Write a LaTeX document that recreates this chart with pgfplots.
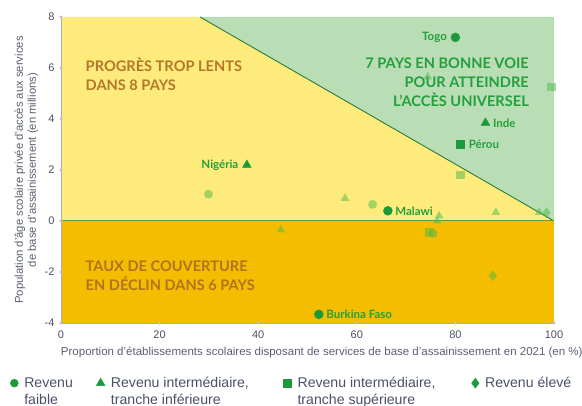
\documentclass[border=0pt]{standalone}
\usepackage{fontspec}
\setmainfont{Liberation Sans}
\newfontfamily\lato{Lato}
\usepackage{pgfplots}
\pgfplotsset{compat=1.18}
\definecolor{bgorange}{HTML}{F5BD00}
\definecolor{bgyellow}{HTML}{FDEC7C}
\definecolor{bggreen}{HTML}{B9DEB5}
\definecolor{linegreen}{HTML}{2F7A3A}
\definecolor{zerogreen}{HTML}{6A9A3A}
\definecolor{darkg}{HTML}{1A9A3A}
\definecolor{lightg}{HTML}{4CB848}
\definecolor{txtg}{HTML}{23A03C}
\definecolor{txtbrown}{HTML}{B5762A}
\definecolor{txtbrown2}{HTML}{B0741E}
\definecolor{axgray}{HTML}{A8ACBC}
\definecolor{tickc}{HTML}{4A5068}
\definecolor{labc}{HTML}{5A6070}
\begin{document}
\begin{tikzpicture}
\begin{axis}[
  scale only axis, width=493pt, height=306pt,
  xmin=0, xmax=100, ymin=-4, ymax=8,
  axis x line=bottom, axis y line=left,
  axis line style={-, draw=axgray, line width=0.9pt},
  axis on top,
  xtick={0,20,...,100}, ytick={-4,-2,...,8},
  major tick length=0pt,
  tick label style={font=\fontsize{11}{13}\selectfont, text=tickc},
  /pgf/number format/assume math mode=true,
  xticklabel style={yshift=-4pt},
  yticklabel style={xshift=-3pt},
  xlabel={Proportion d’établissements scolaires disposant de services de base d’assainissement en 2021 (en \%)},
  xlabel style={at={(axis description cs:0.529,-0.0948)}, anchor=center, font=\fontsize{11.5}{12}\selectfont, text=labc},
  ylabel={Population d’âge scolaire privée d’accès aux services\\de base d’assainissement (en millions)},
  ylabel style={at={(axis description cs:-0.07,0.5)}, anchor=center, align=center, font=\fontsize{11.3}{13}\selectfont, text=labc},
  clip=false,
  legend columns=4,
  legend image code/.code={\draw[#1] plot coordinates {(0pt,0pt)};},
  legend style={at={(axis description cs:-0.1093,-0.170)}, anchor=north west, draw=none, fill=none,
    font=\fontsize{14.1}{16.8}\selectfont, text=tickc,
    nodes={inner sep=0pt},
    /tikz/every odd column/.style={column sep=6pt}},
  legend cell align=left,
]
% background regions
\addplot[fill=bgorange, draw=none, forget plot] coordinates {(0,-4) (100,-4) (100,0) (0,0)} -- cycle;
\addplot[fill=bgyellow, draw=none, forget plot] coordinates {(0,0) (100,0) (28.2,8) (0,8)} -- cycle;
\addplot[fill=bggreen, draw=none, forget plot] coordinates {(28.2,8) (100,0) (100,8)} -- cycle;
\addplot[draw=linegreen, line width=0.9pt, forget plot] coordinates {(28.2,8) (100,0)};
\addplot[draw=zerogreen, line width=1pt, forget plot] coordinates {(0,0) (100,0)};
% tick circles
\addplot[only marks, mark=*, mark size=1.3pt, mark options={fill=white, draw=axgray, line width=0.6pt}, forget plot]
  coordinates {(0,-4) (20,-4) (40,-4) (60,-4) (80,-4) (100,-4) (0,-2) (0,0) (0,2) (0,4) (0,6) (0,8)};
% light points
\addplot[only marks, color=lightg, mark=*, mark size=4.5pt, mark options={draw opacity=0, fill opacity=0.5}, forget plot]
  coordinates {(29.9,1.05) (63.2,0.65) (75.5,-0.48)};
\addplot[only marks, color=lightg, mark=triangle*, mark size=5pt, mark options={draw opacity=0, fill opacity=0.5}, forget plot]
  coordinates {(74.4,5.65) (44.6,-0.35) (57.6,0.89) (76.7,0.2) (76.3,0.0) (88.2,0.34) (97,0.34)};
\addplot[only marks, color=lightg, mark=square*, mark size=4.2pt, mark options={draw opacity=0, fill opacity=0.5}, forget plot]
  coordinates {(99.5,5.25) (81,1.8) (74.6,-0.45)};
\addplot[only marks, color=lightg, mark=diamond*, mark size=5.5pt, mark options={draw opacity=0, fill opacity=0.5}, forget plot]
  coordinates {(98.5,0.33) (87.6,-2.15)};
% dark points
\addplot[only marks, color=darkg, mark=*, mark size=4.5pt, forget plot]
  coordinates {(80,7.2) (66.3,0.4) (52.3,-3.66)};
\addplot[only marks, color=darkg, mark=triangle*, mark size=5pt, forget plot]
  coordinates {(37.7,2.2) (86.1,3.85)};
\addplot[only marks, color=darkg, mark=square*, mark size=4.2pt, forget plot]
  coordinates {(81,3.0)};
% country labels
\begin{scope}[every node/.style={font=\lato\fontsize{11.5}{13}\selectfont\bfseries, text=txtg}]
\node[anchor=east] at (axis cs:80,7.2) [xshift=-5pt] {Togo};
\node[anchor=west] at (axis cs:66.3,0.4) [xshift=4pt] {Malawi};
\node[anchor=west] at (axis cs:52.3,-3.66) [xshift=4pt] {Burkina Faso};
\node[anchor=east] at (axis cs:37.7,2.2) [xshift=-5pt] {Nigéria};
\node[anchor=west] at (axis cs:86.1,3.85) [xshift=4pt] {Inde};
\node[anchor=west] at (axis cs:81,3.0) [xshift=5pt] {Pérou};
\end{scope}
% region labels
\node[anchor=west, align=left, font=\lato\fontsize{14.6}{19}\selectfont\bfseries, text=txtbrown] at (axis cs:4.3,5.75) {PROGRÈS TROP LENTS\\DANS 8 PAYS};
\node[anchor=west, align=left, font=\lato\fontsize{14.6}{19}\selectfont\bfseries, text=txtbrown2] at (axis cs:4.3,-2.14) {TAUX DE COUVERTURE\\EN DÉCLIN DANS 6 PAYS};
\node[anchor=east, align=right, font=\lato\fontsize{14.6}{19}\selectfont\bfseries, text=txtg] at (axis cs:95.6,5.45) {7 PAYS EN BONNE VOIE\\POUR ATTEINDRE\\L’ACCÈS UNIVERSEL};
% legend
\addlegendimage{only marks, color=darkg, mark=*, mark size=4pt}
\addlegendentry{\parbox[t]{72pt}{Revenu\\faible}}
\addlegendimage{only marks, color=darkg, mark=triangle*, mark size=5pt}
\addlegendentry{\parbox[t]{172pt}{Revenu intermédiaire,\\tranche inférieure}}
\addlegendimage{only marks, color=darkg, mark=square*, mark size=4.3pt}
\addlegendentry{\parbox[t]{174pt}{Revenu intermédiaire,\\tranche supérieure}}
\addlegendimage{only marks, color=darkg, mark=diamond*, mark size=5pt}
\addlegendentry{\parbox[t]{100pt}{Revenu élevé}}
\end{axis}
\pgfresetboundingbox
\useasboundingbox (-61pt,-82pt) rectangle (521pt,323pt);
\end{tikzpicture}
\end{document}
